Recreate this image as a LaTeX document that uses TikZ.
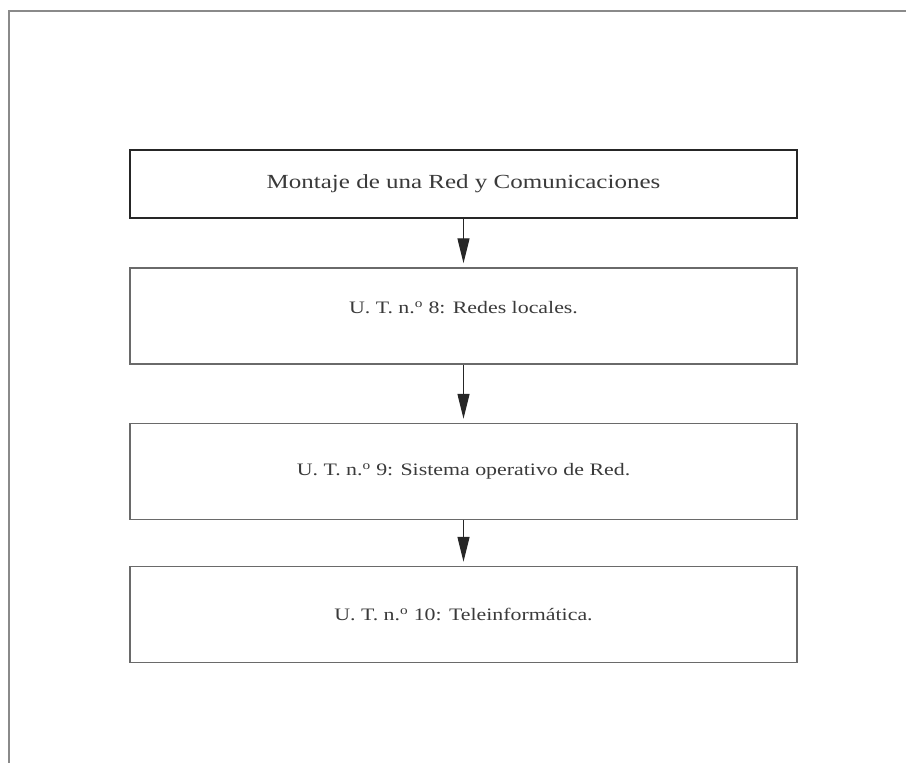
\documentclass[tikz,border=0pt]{standalone}
\usepackage{fontspec}
\setmainfont{Liberation Serif}[FakeStretch=1.25]
\usetikzlibrary{arrows.meta}
\definecolor{inkgray}{HTML}{3A3A3A}
\definecolor{framegray}{HTML}{8A8A8A}
\definecolor{boxgray}{HTML}{6A6A6A}
\newcommand{\utno}{n.\textsuperscript{o}}
% lift a line of text without changing the box it sits in
\newcommand{\liftline}[2]{\raisebox{#1}[\height][\depth]{#2}}
\begin{document}
\begin{tikzpicture}[x=1pt,y=-1pt,
  unitbox/.style={draw=boxgray,line width=1.4pt,minimum width=667pt,
    minimum height=96pt,inner sep=0pt,text=inkgray,
    font=\fontsize{17.5}{21}\selectfont},
  headbox/.style={unitbox,draw=black!85,line width=2pt,minimum height=68pt,
    font=\fontsize{20}{24}\selectfont},
  flow/.style={draw=black!85,line width=1.2pt,
    -{Triangle[length=25pt,width=12pt]},shorten >=4pt}]
  \useasboundingbox (0,0) rectangle (906,763);
  % open frame: top rule and left rule
  \coordinate (ftl) at (9,11);
  \coordinate (ftr) at (906,11);
  \coordinate (fbl) at (9,763);
  \draw[framegray,line width=1.5pt] (ftr) -- (ftl) -- (fbl);
  % module and its teaching units
  \node[headbox] (mod) at (463.5,184) {Montaje de una Red y Comunicaciones};
  \node[unitbox] (ut8) at (463.5,316) {\liftline{8pt}{U. T. \utno\ 8: Redes locales.}};
  \node[unitbox] (ut9) at (463.5,471.5) {U. T. \utno\ 9: Sistema operativo de Red.};
  \node[unitbox] (ut10) at (463.5,614.5) {U. T. \utno\ 10: Teleinformática.};
  \draw[flow] (mod) -- (ut8);
  \draw[flow] (ut8) -- (ut9);
  \draw[flow] (ut9) -- (ut10);
\end{tikzpicture}
\end{document}
